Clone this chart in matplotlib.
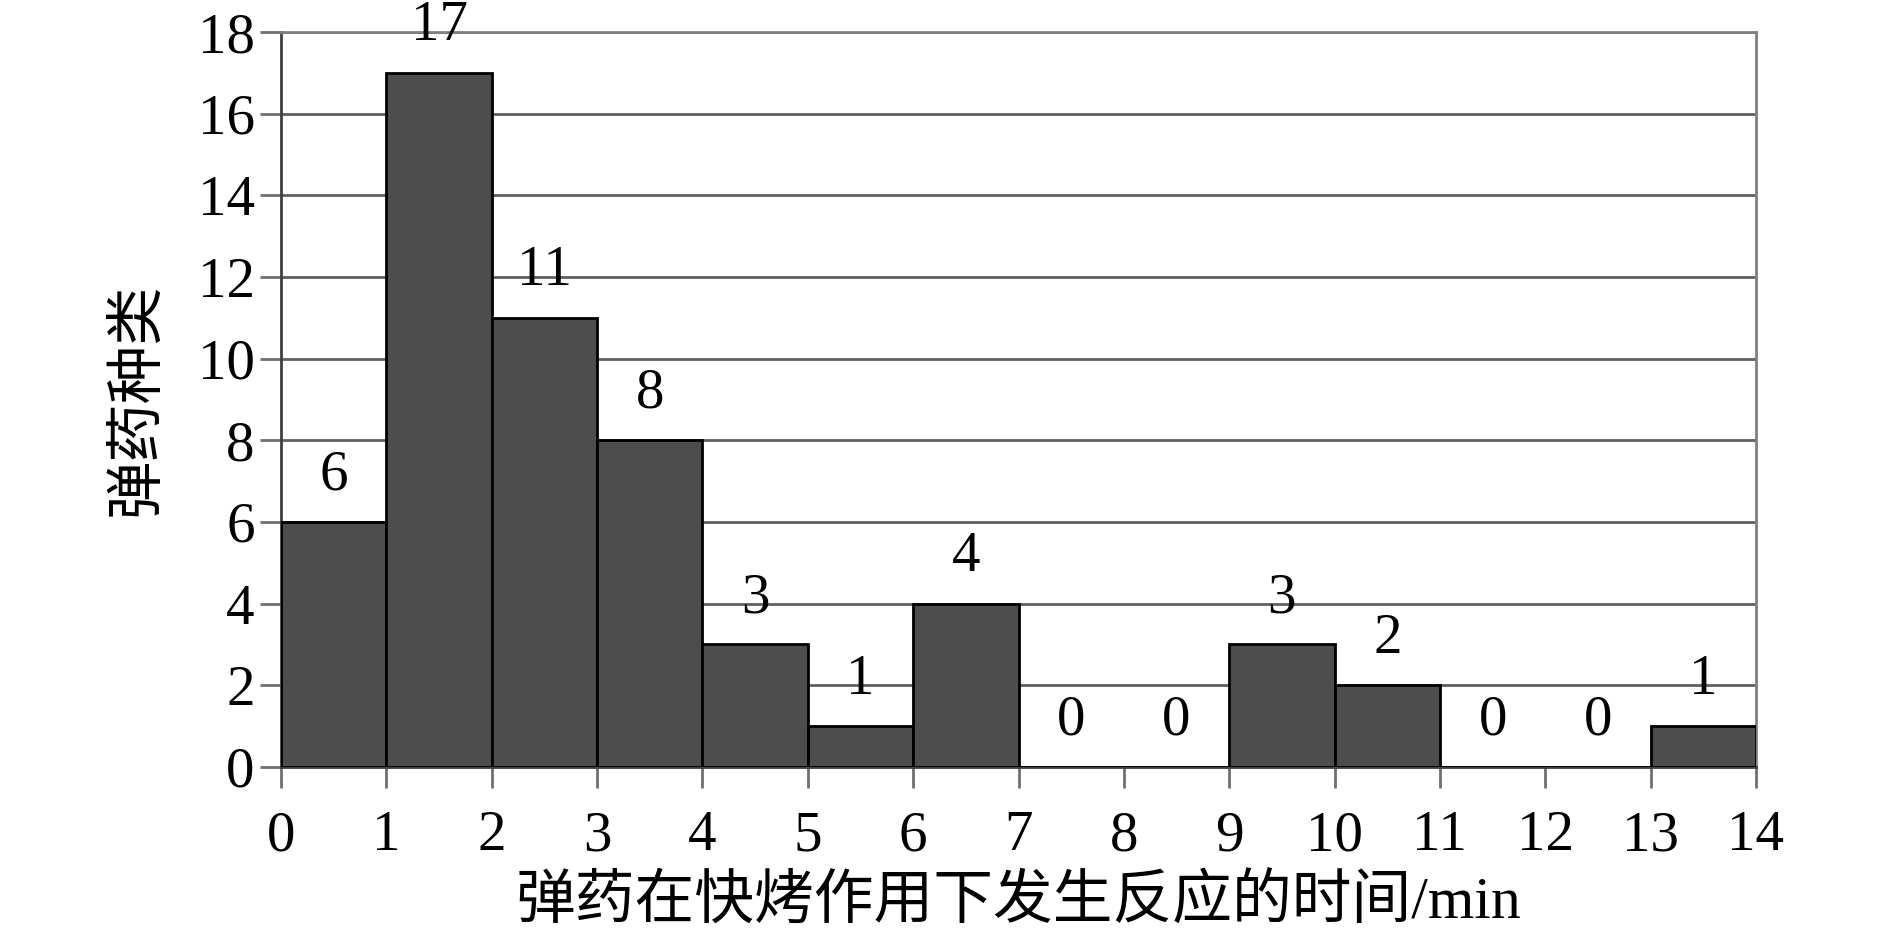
import matplotlib
matplotlib.use("Agg")
import matplotlib.pyplot as plt

plt.rcParams['font.family'] = ['Liberation Serif', 'Noto Sans CJK SC', 'DejaVu Sans']

bin_edges = [0, 1, 2, 3, 4, 5, 6, 7, 8, 9, 10, 11, 12, 13, 14]
counts = [6, 17, 11, 8, 3, 1, 4, 0, 0, 3, 2, 0, 0, 1]
y_ticks = [0, 2, 4, 6, 8, 10, 12, 14, 16, 18]
x_label = "弹药在快烤作用下发生反应的时间/min"
y_label = "弹药种类"

fig = plt.figure(figsize=(18.9, 9.31), dpi=100)
ax = fig.add_axes([0.1487, 0.1762, 0.7804, 0.7894])

lefts = bin_edges[:-1]
ax.bar(lefts, counts, width=1, align='edge', color='#4d4d4d',
       edgecolor='black', linewidth=2, zorder=3)

for x, c in zip(lefts, counts):
    ax.text(x + 0.5, c + 0.5, str(c), ha='center', va='bottom',
            fontsize=41, zorder=4)

ax.set_xlim(0, 14)
ax.set_ylim(0, 18)
ax.set_xticks(bin_edges)
ax.set_yticks(y_ticks)
ax.tick_params(axis='both', labelsize=41, length=15, width=2,
               color='#707070', direction='out')
ax.tick_params(axis='x', pad=16)
ax.tick_params(axis='y', pad=4)

ax.yaxis.grid(True, color='#606060', linewidth=2)
ax.set_axisbelow(True)

for side in ['top', 'right']:
    ax.spines[side].set_color('#808080')
    ax.spines[side].set_linewidth(2)
ax.spines['left'].set_color('#404040')
ax.spines['left'].set_linewidth(2)
ax.spines['bottom'].set_color('#404040')
ax.spines['bottom'].set_linewidth(2)

ax.set_xlabel(x_label, fontsize=43, family=['Liberation Serif', 'Noto Sans CJK SC'],
              labelpad=10)
ax.set_ylabel(y_label, fontsize=42, family=['Noto Sans CJK SC'], labelpad=22)

fig.savefig("out.png", dpi=100)
